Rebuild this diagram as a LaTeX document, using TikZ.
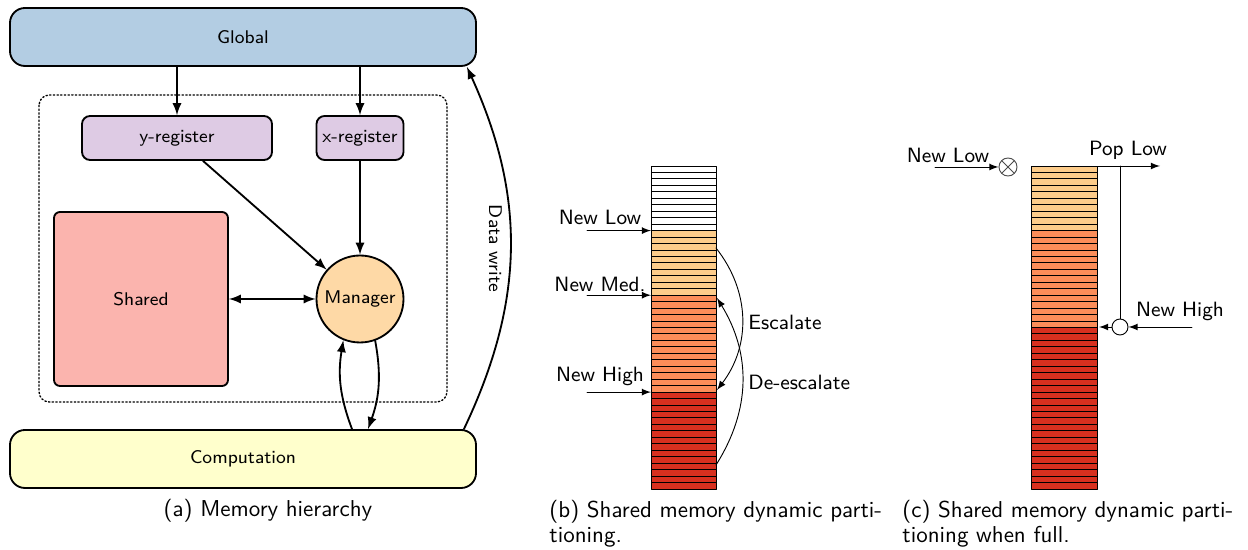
\documentclass[tikz,border=0pt]{standalone}
\usetikzlibrary{arrows}
\definecolor{globc}{HTML}{B3CDE3}
\definecolor{regc}{HTML}{DECBE4}
\definecolor{sharedc}{HTML}{FBB4AE}
\definecolor{mgrc}{HTML}{FED9A6}
\definecolor{compc}{HTML}{FFFFCC}
\definecolor{lowc}{HTML}{FDCC8A}
\definecolor{medc}{HTML}{FC8D59}
\definecolor{highc}{HTML}{D7301F}
\newcommand{\pxl}{0.435pt}
\tikzset{
	membox/.style={draw, thick, font=\sffamily\footnotesize, inner sep=0pt},
	lbl/.style={font=\sffamily\small, inner sep=0pt},
}
\begin{document}
\begin{tikzpicture}[line join=round, line cap=round, >=latex, x=\pxl, y=-\pxl, font=\sffamily]
	\useasboundingbox (0,0) rectangle (1248,550);

	% (a) memory hierarchy
	\node[membox, fill=globc, rounded corners=6.5pt, minimum width=466*\pxl, minimum height=58*\pxl] (glob) at (243,37) {Global};
	\node[membox, fill=compc, rounded corners=6.5pt, minimum width=466*\pxl, minimum height=58*\pxl] (comp) at (243,459) {Computation};
	\draw[semithick, densely dotted, rounded corners=4.5pt] (39,95) rectangle (447,402);
	\node[membox, fill=regc, rounded corners=3.5pt, minimum width=190*\pxl, minimum height=44*\pxl] (yreg) at (177,138) {y-register};
	\node[membox, fill=regc, rounded corners=3.5pt, minimum width=87*\pxl, minimum height=44*\pxl] (xreg) at (360,138) {x-register};
	\node[membox, fill=sharedc, rounded corners=2.6pt, minimum width=174*\pxl, minimum height=174*\pxl] (shared) at (141,299) {Shared};
	\node[membox, fill=mgrc, circle, minimum size=87*\pxl] (mgr) at (360,299) {Manager};

	\draw[thick,->] (glob.south -| yreg.north) -- (yreg.north);
	\draw[thick,->] (glob.south -| xreg.north) -- (xreg.north);
	\draw[thick,->] (yreg) -- (mgr);
	\draw[thick,->] (xreg) -- (mgr);
	\draw[thick,<->] (shared) -- (mgr);
	\draw[thick,->] ([xshift=-8*\pxl]comp.north -| mgr.south) to[bend left=15] (mgr.-112);
	\draw[thick,->] (mgr.-70) to[bend left=15] ([xshift=8*\pxl]comp.north -| mgr.south);
	\draw[thick,->] ([xshift=-13*\pxl]comp.north east) to[bend right=25] node[midway, anchor=north, rotate=-90, font=\sffamily\footnotesize] {Data write} ([xshift=-10*\pxl]glob.south east);

	\node[anchor=base] (capA) at (268,517) {(a) Memory hierarchy};

	% (b) dynamic partitioning
	\foreach \first/\last/\col in {0/9/white,10/19/lowc,20/34/medc,35/49/highc}
		\foreach \i in {\first,...,\last}
			\draw[fill=\col] (651,{166+6.46*\i}) rectangle (716,{172.46+6.46*\i});

	\coordinate (bLow) at (651,230.6);
	\coordinate (bMed) at (651,295.2);
	\coordinate (bHigh) at (651,392.1);
	\coordinate (bLowTail) at (587,230.6);
	\coordinate (bMedTail) at (587,295.2);
	\coordinate (bHighTail) at (587,392.1);
	\node[lbl] (bLowLbl) at (600,217) {New Low};
	\node[lbl] (bMedLbl) at (600,284) {New Med.};
	\node[lbl] (bHighLbl) at (600,376) {New High};
	\draw[->] (bLowTail) -- (bLow);
	\draw[->] (bMedTail) -- (bMed);
	\draw[->] (bHighTail) -- (bHigh);

	\coordinate (bEscA) at (716,248);
	\coordinate (bEscB) at (717,390);
	\coordinate (bDesA) at (716,465);
	\coordinate (bDesB) at (717,298);
	\draw[->] (bEscA) to[bend left=38] (bEscB);
	\draw[->] (bDesA) to[bend right=32] (bDesB);
	\node[lbl, anchor=west] (bEsc) at (748,322) {Escalate};
	\node[lbl, anchor=west] (bDes) at (748,382) {De-escalate};

	\node[anchor=north west, inner sep=0pt, text width=145pt, align=left] (capB) at (549,500)
		{\makebox[145pt][s]{(b) Shared memory dynamic parti-}\\[-1.3pt]tioning.};

	% (c) partitioning when full
	\foreach \first/\last/\col in {0/9/lowc,10/24/medc,25/49/highc}
		\foreach \i in {\first,...,\last}
			\draw[fill=\col] (1031,{166+6.46*\i}) rectangle (1097,{172.46+6.46*\i});

	\node[circle, draw=black!70, minimum size=18*\pxl, inner sep=0pt,
		path picture={\draw[black!70] (path picture bounding box.north west) -- (path picture bounding box.south east)
			(path picture bounding box.north east) -- (path picture bounding box.south west);}] (cFull) at (1008,167) {};
	\node[circle, draw, fill=white, minimum size=16*\pxl, inner sep=0pt] (cHigh) at (1120,327) {};
	\coordinate (cLowTail) at (935,167);
	\coordinate (cTop) at (1097,166);
	\coordinate (cPop) at (1160,166);
	\coordinate (cHighEnd) at (1099,327);
	\coordinate (cHighTail) at (1192,327);
	\node[lbl] (cLowLbl) at (948,155) {New Low};
	\node[lbl] (cPopLbl) at (1128,150) {Pop Low};
	\node[lbl] (cHighLbl) at (1180,311) {New High};
	\draw[->] (cLowTail) -- (cFull);
	\draw[->] (cTop) -- (cPop);
	\draw (cHigh.north) -- (cHigh.north |- cTop);
	\draw[->] (cHigh) -- (cHighEnd);
	\draw[->] (cHighTail) -- (cHigh);

	\node[anchor=north west, inner sep=0pt, text width=145pt, align=left] (capC) at (902,500)
		{\makebox[145pt][s]{(c) Shared memory dynamic parti-}\\[-1.3pt]tioning when full.};
\end{tikzpicture}
\end{document}
